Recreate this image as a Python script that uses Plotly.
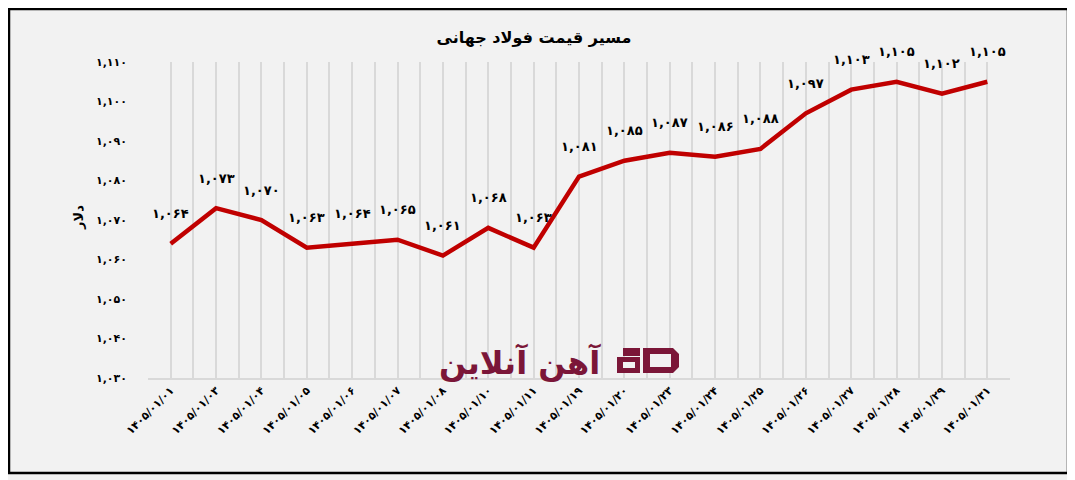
import plotly.graph_objects as go

# ---- data ----
dates = ["۱۴۰۵/۰۱/۰۱", "۱۴۰۵/۰۱/۰۳", "۱۴۰۵/۰۱/۰۴", "۱۴۰۵/۰۱/۰۵", "۱۴۰۵/۰۱/۰۶",
         "۱۴۰۵/۰۱/۰۷", "۱۴۰۵/۰۱/۰۸", "۱۴۰۵/۰۱/۱۰", "۱۴۰۵/۰۱/۱۱", "۱۴۰۵/۰۱/۱۹",
         "۱۴۰۵/۰۱/۲۰", "۱۴۰۵/۰۱/۲۳", "۱۴۰۵/۰۱/۲۴", "۱۴۰۵/۰۱/۲۵", "۱۴۰۵/۰۱/۲۶",
         "۱۴۰۵/۰۱/۲۷", "۱۴۰۵/۰۱/۲۸", "۱۴۰۵/۰۱/۲۹", "۱۴۰۵/۰۱/۳۱"]
prices = [1064, 1073, 1070, 1063, 1064, 1065, 1061, 1068, 1063, 1081,
          1085, 1087, 1086, 1088, 1097, 1103, 1105, 1102, 1105]
y_ticks = [1030, 1040, 1050, 1060, 1070, 1080, 1090, 1100, 1110]

title_text = "مسیر قیمت فولاد جهانی"
y_title = "دلار"
watermark = "آهن آنلاین"

FA = str.maketrans("0123456789", "۰۱۲۳۴۵۶۷۸۹")


def fa_num(v):
    return f"{v:,}".translate(FA)


FONT = "DejaVu Sans"
MAROON = "#7b1638"
BG = "#f2f2f2"
GRID = "#d9d9d9"

# page body has an 8px margin; figure is shrunk and shifted accordingly
OFF = 8
W, H = 1075 - OFF, 480 - OFF
PL, PR, PT, PB = 148, 1010, 62, 378  # plot area in reference pixels


def px_x(px):
    return (px - PL) / (PR - PL)


def px_y(py):
    return (PB - py) / (PB - PT)


x_idx = list(range(len(dates)))

fig = go.Figure()
fig.add_trace(go.Scatter(
    x=x_idx, y=prices, mode="lines",
    line=dict(color="#c00000", width=4.5),
    hoverinfo="skip", showlegend=False,
))

annotations = []
for i, v in zip(x_idx, prices):
    annotations.append(dict(
        x=i, y=v, xref="x", yref="y", text=f"<b>{fa_num(v)}</b>",
        showarrow=False, yshift=30,
        font=dict(family=FONT, size=13, color="#000000"),
    ))

# y-axis title
annotations.append(dict(
    x=px_x(78), y=px_y(218), xref="paper", yref="paper", text=f"<b>{y_title}</b>",
    showarrow=False, textangle=-90, xanchor="center",
    font=dict(family=FONT, size=13, color="#000000"),
))
# watermark text
annotations.append(dict(
    x=px_x(603), y=px_y(362), xref="paper", yref="paper", text=f"<b>{watermark}</b>",
    showarrow=False, xanchor="right", yanchor="middle",
    font=dict(family=FONT, size=32, color=MAROON),
))

shapes = [
    # outer frame
    dict(type="rect", xref="paper", yref="paper",
         x0=px_x(OFF + 1), x1=px_x(1068),
         y0=px_y(473), y1=px_y(OFF + 1),
         line=dict(color="#000000", width=2.5), fillcolor="rgba(0,0,0,0)", layer="below"),
    # logo "a" part
    dict(type="rect", xref="paper", yref="paper",
         x0=px_x(617), x1=px_x(640), y0=px_y(373), y1=px_y(357),
         line=dict(width=0), fillcolor=MAROON),
    dict(type="rect", xref="paper", yref="paper",
         x0=px_x(623), x1=px_x(640), y0=px_y(356), y1=px_y(348),
         line=dict(width=0), fillcolor=MAROON),
    dict(type="rect", xref="paper", yref="paper",
         x0=px_x(623), x1=px_x(635), y0=px_y(368), y1=px_y(362),
         line=dict(width=0), fillcolor=BG),
    # logo "D" part
    dict(type="path", xref="paper", yref="paper",
         path=(f"M {px_x(643)},{px_y(373)} L {px_x(673)},{px_y(373)} L {px_x(679)},{px_y(367)} "
               f"L {px_x(679)},{px_y(354)} L {px_x(673)},{px_y(348)} L {px_x(643)},{px_y(348)} Z"),
         line=dict(width=0), fillcolor=MAROON),
    dict(type="rect", xref="paper", yref="paper",
         x0=px_x(650), x1=px_x(671), y0=px_y(367), y1=px_y(354),
         line=dict(width=0), fillcolor=BG),
]

fig.update_layout(
    width=W, height=H,
    margin=dict(l=PL - OFF, r=1075 - PR, t=PT - OFF, b=480 - PB),
    paper_bgcolor=BG, plot_bgcolor=BG,
    title=dict(text=f"<b>{title_text}</b>", x=px_x(534), xref="paper", xanchor="center",
               y=1 - (37 - OFF) / H, yanchor="middle",
               font=dict(family=FONT, size=16, color="#000000")),
    annotations=annotations,
    shapes=shapes,
    xaxis=dict(
        range=[-0.5, len(dates) - 0.5],
        tickmode="array", tickvals=x_idx, ticktext=[f"<b>{d}</b>" for d in dates],
        tickangle=-45, tickfont=dict(family=FONT, size=11, color="#000000"),
        showgrid=True, gridcolor=GRID, gridwidth=1.5,
        minor=dict(tickmode="linear", tick0=-0.5, dtick=1, showgrid=True,
                   gridcolor=GRID, gridwidth=1.5),
        showline=True, linecolor=GRID, linewidth=1.5,
        ticks="", zeroline=False, fixedrange=True,
    ),
    yaxis=dict(
        range=[1030, 1110],
        tickmode="array", tickvals=y_ticks,
        ticktext=[f"<b>{fa_num(v)}</b>" for v in y_ticks],
        tickfont=dict(family=FONT, size=11, color="#000000"),
        showgrid=False, zeroline=False, showline=False, ticks="",
        ticklabelstandoff=20,
    ),
)

fig.write_html("out.html")
